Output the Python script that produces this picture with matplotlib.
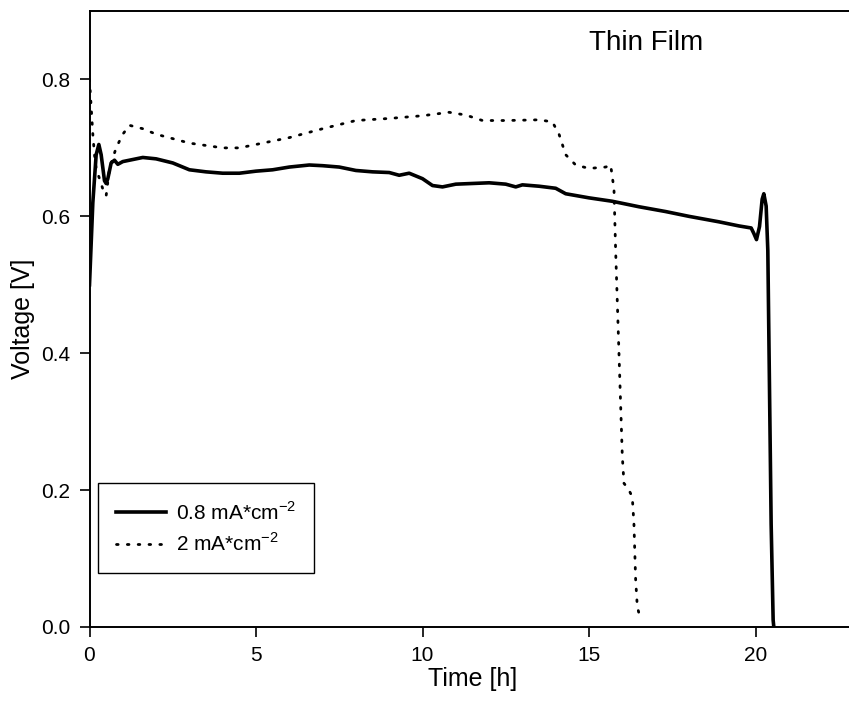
import matplotlib
matplotlib.use("Agg")
import matplotlib.pyplot as plt

# ---- data ----
t_low = [0.0, 0.1, 0.2, 0.28, 0.35, 0.45, 0.5, 0.55, 0.65, 0.75, 0.85, 1.0, 1.3, 1.6, 2.0,
         2.5, 3.0, 3.5, 4.0, 4.5, 5.0, 5.5, 6.0, 6.6, 7.0, 7.5, 8.0, 8.5, 9.0, 9.3, 9.6,
         10.0, 10.3, 10.6, 11.0, 11.5, 12.0, 12.5, 12.8, 13.0, 13.5, 14.0, 14.3, 15.0,
         15.7, 16.5, 17.3, 18.0, 18.9, 19.5, 19.87, 19.95, 20.03, 20.12, 20.2, 20.25,
         20.32, 20.37, 20.42, 20.47, 20.53, 20.55]
v_low = [0.50, 0.62, 0.69, 0.705, 0.69, 0.652, 0.648, 0.655, 0.678, 0.682, 0.676, 0.68,
         0.683, 0.686, 0.684, 0.678, 0.668, 0.665, 0.663, 0.663, 0.666, 0.668, 0.672,
         0.675, 0.674, 0.672, 0.667, 0.665, 0.664, 0.66, 0.663, 0.655, 0.645, 0.643,
         0.647, 0.648, 0.649, 0.647, 0.643, 0.646, 0.644, 0.641, 0.633, 0.627, 0.622,
         0.614, 0.607, 0.600, 0.592, 0.586, 0.583, 0.575, 0.566, 0.585, 0.625, 0.633,
         0.615, 0.55, 0.35, 0.15, 0.01, 0.0]

t_high = [0.0, 0.05, 0.1, 0.15, 0.2, 0.3, 0.4, 0.5, 0.6, 0.8, 1.0, 1.2, 1.6, 2.0, 3.0,
          4.0, 4.5, 5.0, 6.0, 7.0, 8.0, 9.0, 10.0, 10.8, 11.3, 11.8, 12.5, 13.5, 13.9,
          14.1, 14.3, 14.6, 15.0, 15.5, 15.65, 15.75, 15.8, 15.9, 16.0, 16.05, 16.2,
          16.3, 16.35, 16.4, 16.45, 16.5]
v_high = [0.80, 0.76, 0.72, 0.69, 0.67, 0.655, 0.64, 0.63, 0.67, 0.70, 0.72, 0.733,
          0.728, 0.72, 0.707, 0.70, 0.70, 0.705, 0.715, 0.728, 0.74, 0.743, 0.747,
          0.752, 0.748, 0.74, 0.74, 0.741, 0.738, 0.72, 0.69, 0.675, 0.67, 0.672,
          0.675, 0.64, 0.55, 0.40, 0.25, 0.21, 0.20, 0.19, 0.15, 0.07, 0.03, 0.02]

labels = [r"0.8 mA*cm$^{\mathregular{-2}}$", r"2 mA*cm$^{\mathregular{-2}}$"]
x_ticks = [0, 5, 10, 15, 20]
y_ticks = [0.0, 0.2, 0.4, 0.6, 0.8]

font = "Liberation Sans"
plt.rcParams["font.family"] = [font, "DejaVu Sans"]
plt.rcParams["mathtext.fontset"] = "custom"
plt.rcParams["mathtext.rm"] = font

fig = plt.figure(figsize=(8.49, 7.07), dpi=100)
W, H = 849, 707
x0, x1, y0, y1 = 89.5, 855.4, 11, 627
ax = fig.add_axes([x0 / W, 1 - y1 / H, (x1 - x0) / W, (y1 - y0) / H])

ax.plot(t_low, v_low, color="black", lw=2.6, solid_joinstyle="round", label=labels[0])
ax.plot(t_high, v_high, color="black", lw=2.0, linestyle=(0, (0.6, 3.3)),
        dash_capstyle="round", label=labels[1])

ax.set_xlim(0, 23)
ax.set_ylim(0, 0.9)
ax.set_xticks(x_ticks)
ax.set_yticks(y_ticks)
ax.set_xticklabels([str(v) for v in x_ticks])
ax.set_yticklabels([f"{v:.1f}" for v in y_ticks])
ax.tick_params(direction="out", length=7, width=1.2, labelsize=15, pad=7)
for s in ax.spines.values():
    s.set_linewidth(1.4)

ax.set_xlabel("Time [h]", fontsize=18, labelpad=1)
ax.set_ylabel("Voltage [V]", fontsize=18, labelpad=4)

ax.text(15.0, 0.853, "Thin Film", fontsize=20, va="center", ha="left")

leg = ax.legend(loc="upper left", bbox_to_anchor=((98 - x0) / (x1 - x0), (y1 - 483) / (y1 - y0)),
                borderaxespad=0, fancybox=False, edgecolor="black", framealpha=1,
                fontsize=15, handlelength=2.4, handletextpad=0.5, borderpad=0.85,
                labelspacing=0.45)
leg.get_frame().set_linewidth(1.0)

fig.savefig("out.png", dpi=100)
